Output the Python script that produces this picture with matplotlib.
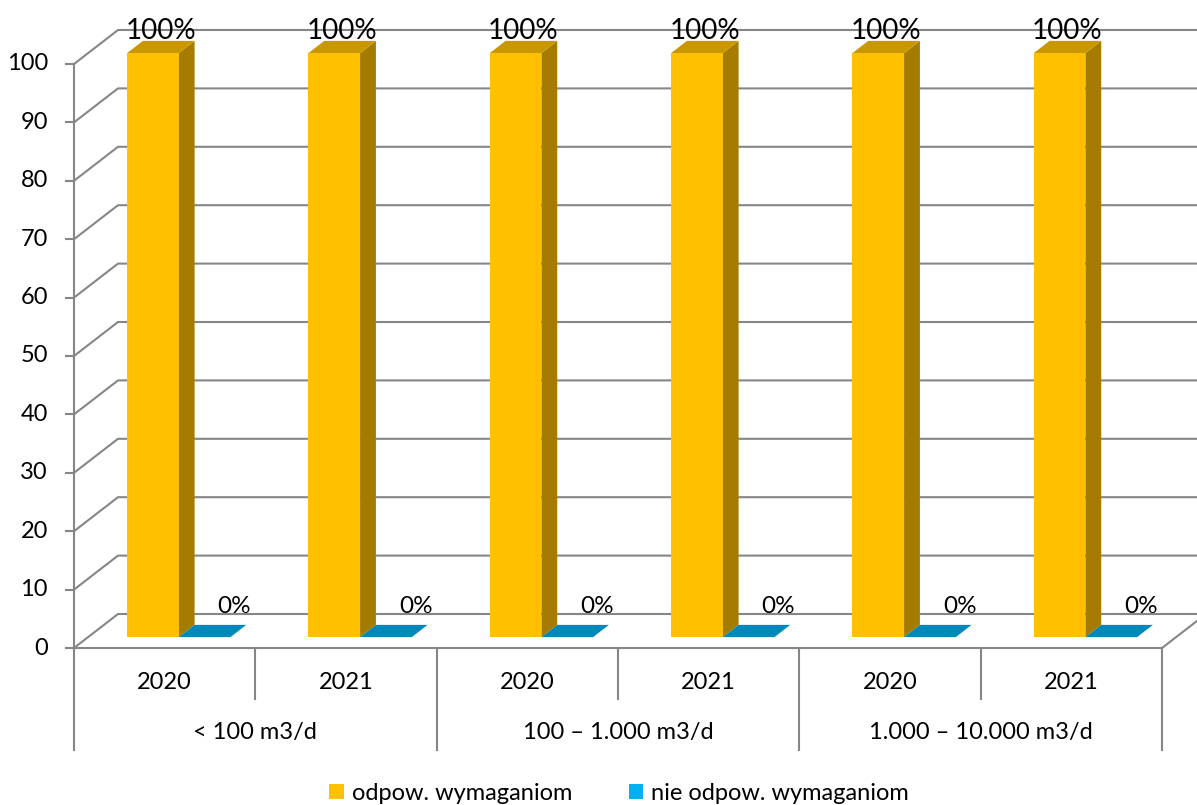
import matplotlib
matplotlib.use("Agg")
import matplotlib.pyplot as plt
from matplotlib.patches import Polygon, Patch

plt.rcParams["font.family"] = ["Lato", "DejaVu Sans"]

# ---- data -------------------------------------------------------------
groups = ["< 100 m3/d", "100 – 1.000 m3/d", "1.000 – 10.000 m3/d"]
years = ["2020", "2021"]
compliant = [100, 100, 100, 100, 100, 100]        # odpow. wymaganiom
non_compliant = [0, 0, 0, 0, 0, 0]                # nie odpow. wymaganiom
y_ticks = [0, 10, 20, 30, 40, 50, 60, 70, 80, 90, 100]
series_names = ["odpow. wymaganiom", "nie odpow. wymaganiom"]

# ---- styling ----------------------------------------------------------
GRID = "#868686"
YEL_FRONT, YEL_SIDE, YEL_TOP = "#FFC000", "#A67C00", "#C99700"
BLU_FRONT, BLU_SIDE, BLU_TOP = "#00B0F0", "#0079A6", "#0088BB"
LW = 1.5

W_PX, H_PX, DPI = 1197, 805, 100
fig = plt.figure(figsize=(W_PX / DPI, H_PX / DPI), dpi=DPI)
ax = fig.add_axes([74 / W_PX, (H_PX - 648) / H_PX,
                   (1162 - 74) / W_PX, (648 - 64) / H_PX])
n_cat = len(groups) * len(years)
ax.set_xlim(0, n_cat)
ax.set_ylim(0, 100)
ax.axis("off")

# oblique projection of the depth axis (z in 0..1) onto data units
DX = 44 / ((1162 - 74) / n_cat)
DY = 34 / ((648 - 64) / 100)


def proj(x, v, z):
    return x + z * DX, v + z * DY


def face(pts, color, zorder):
    ax.add_patch(Polygon(pts, closed=True, facecolor=color, edgecolor="none",
                         zorder=zorder, clip_on=False))


def line(pts, zorder=1, **kw):
    xs, ys = zip(*pts)
    ax.plot(xs, ys, color=GRID, lw=LW, zorder=zorder, clip_on=False,
            solid_capstyle="butt", **kw)


# walls: side-wall diagonals + back-wall gridlines
for t in y_ticks:
    line([proj(0, t, 0), proj(0, t, 1), proj(n_cat + 0.3, t, 1)])
# floor right edge and front edge
line([proj(n_cat, 0, 0), proj(n_cat, 0, 1)])
line([(0, 0), (n_cat, 0)], zorder=6)
# value axis
line([(0, 0), (0, 100)], zorder=6)
ax.plot([0, 0], [0, -0.1747], transform=ax.get_xaxis_transform(),
        color=GRID, lw=LW, clip_on=False, zorder=6)
for t in y_ticks:
    ax.plot([-0.00735, 0], [t, t], transform=ax.get_yaxis_transform(),
            color=GRID, lw=LW, clip_on=False, zorder=6)
    ax.text(-0.0239, t, f"{t}", transform=ax.get_yaxis_transform(),
            ha="right", va="center", fontsize=17, color="black")

# bars
BW = 0.285
Z0, Z1 = 0.32, 0.68


def bar3d(x0, h, front, side, top):
    x1 = x0 + BW
    if h > 0:
        face([proj(x0, 0, Z0), proj(x1, 0, Z0), proj(x1, h, Z0), proj(x0, h, Z0)],
             front, 4)
        face([proj(x1, 0, Z0), proj(x1, 0, Z1), proj(x1, h, Z1), proj(x1, h, Z0)],
             side, 3)
    face([proj(x0, h, Z0), proj(x1, h, Z0), proj(x1, h, Z1), proj(x0, h, Z1)],
         top, 3)


for i in range(n_cat):
    xc = i + 0.5
    bar3d(xc - BW, compliant[i], YEL_FRONT, YEL_SIDE, YEL_TOP)
    bar3d(xc, non_compliant[i], BLU_FRONT, BLU_SIDE, BLU_TOP)

    lx, _ = proj(xc - BW / 2, compliant[i], 0.5)
    _, ly = proj(xc - BW / 2, compliant[i], Z1)
    ax.annotate(f"{compliant[i]:.0f}%", (lx, ly), xytext=(0, 1.5),
                textcoords="offset points", ha="center", va="baseline",
                fontsize=20, annotation_clip=False, zorder=7)
    bx, by = proj(xc + BW / 2, non_compliant[i], Z1)
    ax.annotate(f"{non_compliant[i]:.0f}%", (bx, by), xytext=(10, 13),
                textcoords="offset points", ha="center", va="center",
                fontsize=17.5, annotation_clip=False, zorder=7)

# category axis: years and group labels with separators
xt = ax.get_xaxis_transform()
for g, name in enumerate(groups):
    for j, yr in enumerate(years):
        k = g * len(years) + j
        ax.text(k + 0.5, -0.0599, yr, transform=xt, ha="center", va="center",
                fontsize=17)
        if j > 0:
            ax.plot([k, k], [0, -0.0873], transform=xt, color=GRID, lw=LW,
                    clip_on=False)
    right = (g + 1) * len(years)
    ax.plot([right, right], [0, -0.1747], transform=xt, color=GRID, lw=LW,
            clip_on=False)
    ax.text(g * len(years) + len(years) / 2, -0.1455, name, transform=xt,
            ha="center", va="center", fontsize=17)

# legend
handles = [Patch(facecolor=YEL_FRONT, edgecolor="none"),
           Patch(facecolor=BLU_FRONT, edgecolor="none")]
fig.legend(handles, series_names, loc="center", ncol=2,
           bbox_to_anchor=(619 / W_PX, (H_PX - 793) / H_PX), frameon=False,
           fontsize=17, handlelength=0.6, handleheight=0.6,
           handletextpad=0.34, columnspacing=2.4, borderaxespad=0)

fig.savefig("out.png", dpi=DPI)
